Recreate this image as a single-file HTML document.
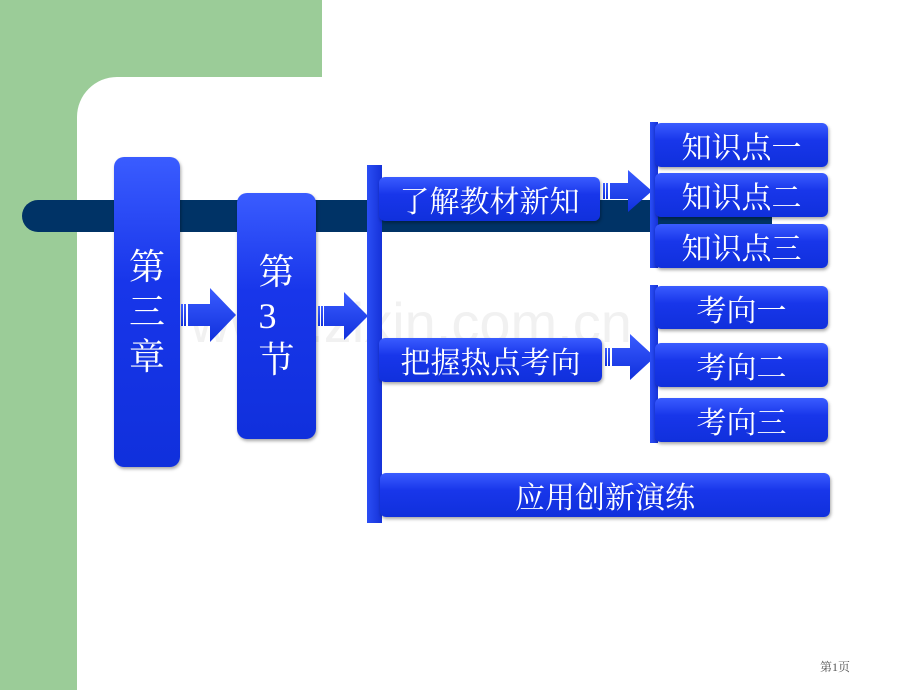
<!DOCTYPE html><html><head><meta charset="utf-8"><style>
body{margin:0}
#c{position:relative;width:920px;height:690px;background:#fff;overflow:hidden;font-family:"Liberation Serif","Noto Serif CJK SC",serif}
.a{position:absolute}
.b{position:absolute;background:linear-gradient(#3a5cff,#1836ea 40%,#1030dc);border-radius:6px;color:#fff;box-shadow:1px 2px 3px rgba(0,0,0,.35);display:flex;align-items:center;justify-content:center;font-size:30px}
.v{position:absolute;background:linear-gradient(90deg,#2b4ef5,#1532d8);}
</style></head><body><div id="c">
<div class="a" style="left:0;top:0;width:322px;height:120px;background:#9bcc98"></div>
<div class="a" style="left:0;top:0;width:77px;height:690px;background:#9bcc98"></div>
<div class="a" style="left:77px;top:77px;width:843px;height:613px;background:#fff;border-top-left-radius:40px"></div>
<div class="a" style="left:22px;top:200px;width:750px;height:32px;background:#003366;border-radius:16px 0 0 16px"></div>
<div class="a" style="left:190px;top:290px;font-family:'Liberation Sans',sans-serif;font-size:56px;color:rgba(160,160,160,.15)">www.zixin.com.cn</div>
<div class="b" style="left:114px;top:157px;width:66px;height:310px;border-radius:10px;flex-direction:column;line-height:45px;font-size:36px">第<br>三<br>章</div>
<div class="b" style="left:237px;top:193px;width:79px;height:246px;border-radius:10px;flex-direction:column;line-height:44px;font-size:36px">第<br>3<br>节</div>
<svg class="a" style="left:0;top:0" width="920" height="690">
<defs><linearGradient id="g" x1="0" y1="0" x2="0" y2="1"><stop offset="0" stop-color="#3a5cff"/><stop offset="1" stop-color="#1030dc"/></linearGradient></defs>
<g fill="url(#g)">
<path d="M188 304h22v-16l26 27-26 27v-16h-22z"/><rect x="181" y="304" width="2" height="22"/><rect x="184" y="304" width="2" height="22"/>
<path d="M324 306h20v-14l24 24-24 24v-14h-20z"/><rect x="318" y="306" width="2" height="20"/><rect x="321" y="306" width="2" height="20"/>
<path d="M610 183h18v-13l24 21-24 21v-13h-18z"/><rect x="603" y="183" width="2" height="16"/><rect x="606" y="183" width="2" height="16"/>
<path d="M612 348h18v-14l25 23-25 23v-14h-18z"/><rect x="605" y="348" width="2" height="18"/><rect x="608" y="348" width="2" height="18"/>
</g></svg>
<div class="v" style="left:367px;top:165px;width:15px;height:358px"></div>
<div class="v" style="left:650px;top:122px;width:8px;height:146px"></div>
<div class="v" style="left:650px;top:285px;width:8px;height:158px"></div>
<div class="b" style="left:379px;top:177px;width:221px;height:44px">了解教材新知</div>
<div class="b" style="left:379px;top:338px;width:223px;height:44px">把握热点考向</div>
<div class="b" style="left:655px;top:123px;width:173px;height:44px">知识点一</div>
<div class="b" style="left:655px;top:173px;width:173px;height:44px">知识点二</div>
<div class="b" style="left:655px;top:224px;width:173px;height:44px">知识点三</div>
<div class="b" style="left:655px;top:286px;width:173px;height:43px">考向一</div>
<div class="b" style="left:655px;top:343px;width:173px;height:44px">考向二</div>
<div class="b" style="left:655px;top:398px;width:173px;height:44px">考向三</div>
<div class="b" style="left:380px;top:473px;width:450px;height:44px">应用创新演练</div>
<div class="a" style="left:820px;top:658px;font-size:12px;color:#555">第1页</div>
</div></body></html>
